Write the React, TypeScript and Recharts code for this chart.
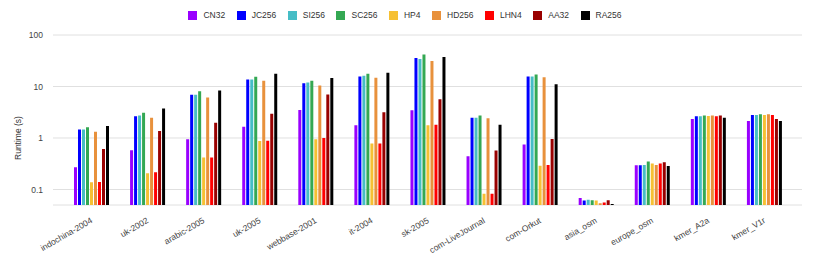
import React from 'react';
import { BarChart, Bar, XAxis, YAxis, CartesianGrid, Legend } from 'recharts';

const categories = ['indochina-2004', 'uk-2002', 'arabic-2005', 'uk-2005', 'webbase-2001', 'it-2004', 'sk-2005', 'com-LiveJournal', 'com-Orkut', 'asia_osm', 'europe_osm', 'kmer_A2a', 'kmer_V1r'];

const seriesNames = ['CN32', 'JC256', 'SI256', 'SC256', 'HP4', 'HD256', 'LHN4', 'AA32', 'RA256'];
const seriesColors = ['#9900ff', '#0000ff', '#46bdc6', '#34a853', '#f6c033', '#e8913c', '#ff0000', '#990000', '#000000'];

const CN32 = [0.27, 0.58, 0.95, 1.66, 3.5, 1.76, 3.46, 0.44, 0.75, 0.068, 0.296, 2.34, 2.14];
const JC256 = [1.47, 2.64, 6.9, 13.7, 11.6, 15.7, 35.9, 2.48, 15.7, 0.061, 0.296, 2.64, 2.8];
const SI256 = [1.47, 2.72, 6.9, 13.7, 11.9, 16.2, 34.3, 2.48, 15.7, 0.063, 0.3, 2.64, 2.8];
const SC256 = [1.61, 3.1, 8.1, 15.5, 12.9, 17.7, 41.6, 2.72, 17.1, 0.062, 0.35, 2.72, 2.88];
const HP4 = [0.138, 0.206, 0.42, 0.87, 0.95, 0.78, 1.76, 0.083, 0.29, 0.061, 0.32, 2.68, 2.8];
const HD256 = [1.32, 2.48, 6.1, 12.9, 10.5, 14.8, 31.3, 2.42, 15.2, 0.054, 0.3, 2.72, 2.88];
const LHN4 = [0.14, 0.216, 0.42, 0.88, 1.0, 0.78, 1.8, 0.083, 0.3, 0.056, 0.32, 2.64, 2.8];
const AA32 = [0.61, 1.36, 1.98, 2.97, 7.0, 3.16, 5.67, 0.57, 0.96, 0.062, 0.34, 2.72, 2.34];
const RA256 = [1.71, 3.72, 8.4, 17.7, 14.6, 18.5, 37.5, 1.81, 11.1, 0.052, 0.286, 2.48, 2.14];

const seriesValues = [CN32, JC256, SI256, SC256, HP4, HD256, LHN4, AA32, RA256];
const yTicks = [0.1, 1, 10, 100];

const data = categories.map((c, i) => {
  const row: Record<string, string | number> = { name: c };
  seriesNames.forEach((s, j) => {
    row[s] = seriesValues[j][i];
  });
  return row;
});

const XTick = (props: any) => {
  const { x, y, payload } = props;
  return (
    <g transform={`translate(${x - 1},${y + 4})`}>
      <text
        x={0}
        y={0}
        dy={6}
        textAnchor="end"
        transform="rotate(-30)"
        fontSize={8.5}
        fill="#444"
        fontFamily="Arial, 'Liberation Sans', sans-serif"
      >
        {payload.value}
      </text>
    </g>
  );
};

const LegendContent = () => (
  <div
    style={{
      height: 27,
      display: 'flex',
      justifyContent: 'center',
      alignItems: 'flex-start',
      paddingTop: 2,
      boxSizing: 'border-box',
      fontFamily: "Arial, 'Liberation Sans', sans-serif",
      fontSize: 8.5,
      color: '#333',
    }}
  >
    {seriesNames.map((s, i) => (
      <div key={s} style={{ display: 'flex', alignItems: 'center', marginRight: i < seriesNames.length - 1 ? 11.5 : 0, height: 11 }}>
        <span style={{ width: 9, height: 9, background: seriesColors[i], display: 'inline-block', marginRight: 6 }} />
        <span style={{ lineHeight: '11px' }}>{s}</span>
      </div>
    ))}
  </div>
);

export default function App() {
  return (
    <div style={{ position: 'relative', width: 798, height: 250 }}>
      <BarChart
        width={798}
        height={250}
        data={data}
        margin={{ top: 0, right: 4, left: 0, bottom: 8 }}
        barGap={1}
        barSize={3}
      >
        <Legend verticalAlign="top" align="center" content={<LegendContent />} />
        <CartesianGrid vertical={false} stroke="#e0e0e0" />
        <XAxis
          dataKey="name"
          interval={0}
          axisLine={false}
          tickLine={false}
          height={45}
          padding={{ left: 10, right: 10 }}
          tick={<XTick />}
        />
        <YAxis
          scale="log"
          domain={[0.05, 100]}
          ticks={yTicks}
          allowDataOverflow
          axisLine={false}
          tickLine={false}
          width={45}
          tickMargin={4}
          tick={{ fontSize: 8.5, fill: '#444', fontFamily: "Arial, 'Liberation Sans', sans-serif" }}
          label={{
            value: 'Runtime (s)',
            angle: -90,
            position: 'insideLeft',
            offset: 0,
            dx: 10,
            dy: 18,
            style: { fontSize: 8.5, fill: '#333', fontFamily: "Arial, 'Liberation Sans', sans-serif", textAnchor: 'middle' },
          }}
        />
        {seriesNames.map((s, i) => (
          <Bar key={s} dataKey={s} fill={seriesColors[i]} isAnimationActive={false} />
        ))}
      </BarChart>
    </div>
  );
}
